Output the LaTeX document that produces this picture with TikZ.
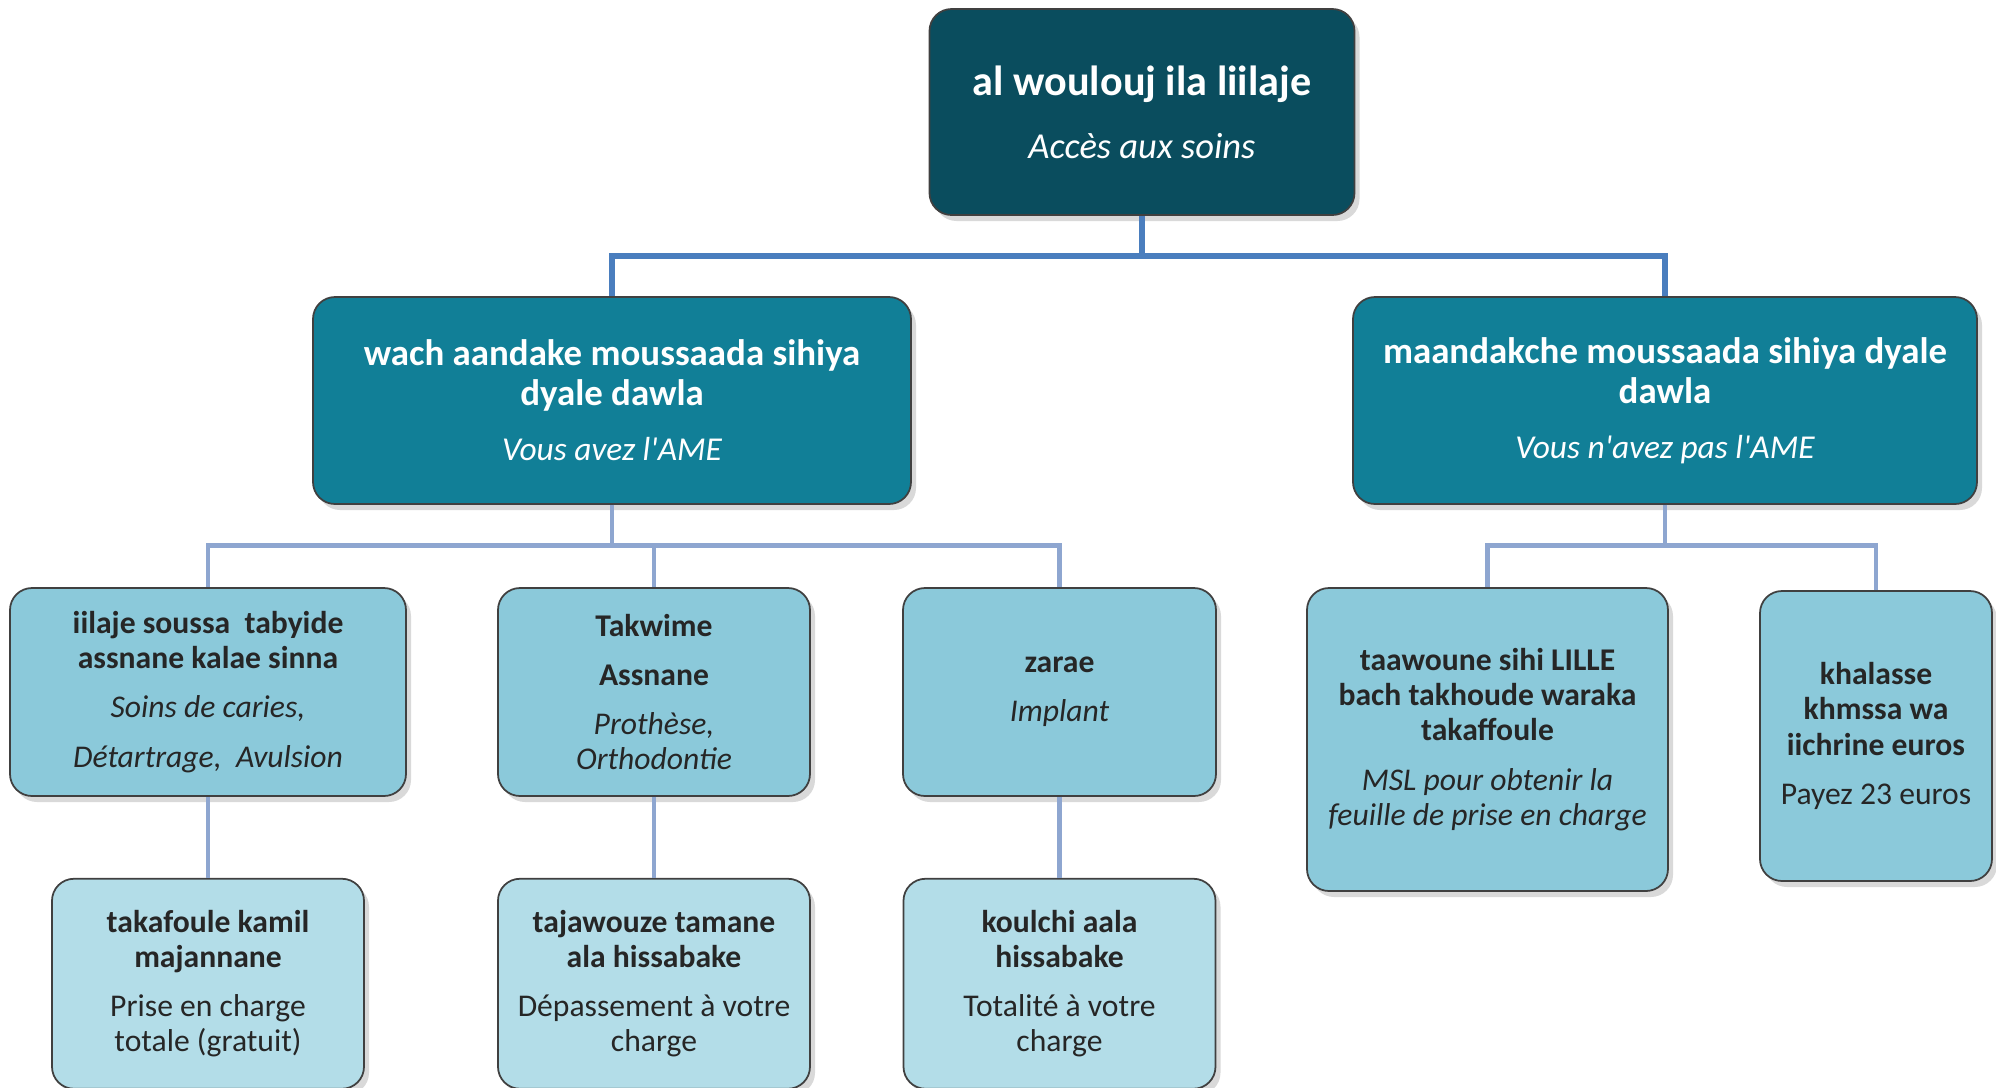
\documentclass[tikz,border=0pt]{standalone}
\usepackage{fontspec}
\setmainfont{Carlito}[Ligatures=TeXOff]
\usepackage{tikz}
\usetikzlibrary{positioning, shadows}

\definecolor{rootteal}{HTML}{0A4D5E}
\definecolor{ameteal}{HTML}{117F97}
\definecolor{soinblue}{HTML}{8BC9DA}
\definecolor{restblue}{HTML}{B3DDE8}
\definecolor{busblue}{HTML}{4A7EBE}
\definecolor{linkblue}{HTML}{8EA6D0}

\begin{document}
\begin{tikzpicture}[
  card/.style={rectangle, rounded corners=2.2mm, draw=black!75, line width=0.5pt, align=center,
    drop shadow={opacity=0.3, shadow xshift=0.5mm, shadow yshift=-0.6mm}},
  rootbox/.style={card, fill=rootteal, text=white, minimum width=4.25cm, minimum height=2.06cm,
    font=\fontsize{12}{12}\selectfont},
  amebox/.style={card, fill=ameteal, text=white, minimum height=2.07cm,
    font=\fontsize{10.5}{11.4}\selectfont},
  soinbox/.style={card, fill=soinblue, text=black!85, font=\fontsize{9}{10}\selectfont},
  restbox/.style={card, fill=restblue, text=black!85, minimum width=3.12cm, minimum height=2.1cm,
    font=\fontsize{9}{10}\selectfont},
  bus/.style={draw=busblue, line width=1.7pt},
  link/.style={draw=linkblue, line width=1.4pt}]

  \useasboundingbox (0,0) rectangle (19.96,-10.87);

  % top
  \node [rootbox] (acces) at (11.42,-1.12)
    {\textbf{al woulouj ila liilaje}\\[6pt]{\fontsize{10.4}{12}\selectfont\itshape Accès aux soins}};

  % with / without AME
  \node [amebox, minimum width=5.98cm] (ame) at (6.12,-4.005)
    {\textbf{wach aandake moussaada sihiya}\\\textbf{dyale dawla}\\[4.2pt]{\fontsize{9.5}{11.4}\selectfont\itshape Vous avez l'AME}};
  \node [amebox, minimum width=6.24cm] (noame) at (16.65,-4.005)
    {\textbf{maandakche moussaada sihiya dyale}\\\textbf{dawla}\\[4.2pt]{\fontsize{9.5}{11.4}\selectfont\itshape Vous n'avez pas l'AME}};

  % kinds of care
  \node [soinbox, minimum width=3.96cm, minimum height=2.08cm] (caries) at (2.08,-6.92)
    {\textbf{iilaje soussa~ tabyide}\\\textbf{assnane kalae sinna}\\[4pt]\textit{Soins de caries,}\\[4pt]\textit{Détartrage,~ Avulsion}};
  \node [soinbox, minimum width=3.12cm, minimum height=2.08cm] (prothese) at (6.54,-6.92)
    {\textbf{Takwime}\\[4pt]\textbf{Assnane}\\[4pt]\textit{Prothèse,}\\\textit{Orthodontie}};
  \node [soinbox, minimum width=3.13cm, minimum height=2.08cm] (implant) at (10.595,-6.92)
    {\textbf{zarae}\\[4pt]\textit{Implant}};
  \node [soinbox, minimum width=3.61cm, minimum height=3.03cm] (msl) at (14.875,-7.395)
    {\textbf{taawoune sihi LILLE}\\\textbf{bach takhoude waraka}\\\textbf{takaffoule}\\[4pt]\textit{MSL pour obtenir la}\\\textit{feuille de prise en charge}};
  \node [soinbox, minimum width=2.32cm, minimum height=2.9cm] (payez) at (18.76,-7.36)
    {\textbf{khalasse}\\\textbf{khmssa wa}\\\textbf{iichrine euros}\\[4pt]Payez 23 euros};

  % what is left to pay
  \node [restbox, below=0.81cm of caries] (gratuit)
    {\textbf{takafoule kamil}\\\textbf{majannane}\\[4pt]Prise en charge\\totale (gratuit)};
  \node [restbox, below=0.81cm of prothese] (depassement)
    {\textbf{tajawouze tamane}\\\textbf{ala hissabake}\\[4pt]Dépassement à votre\\charge};
  \node [restbox, below=0.81cm of implant] (totalite)
    {\textbf{koulchi aala}\\\textbf{hissabake}\\[4pt]Totalité à votre\\charge};

  % connectors
  \path [bus] (acces.south) -- ++(0,-0.4) -| (ame.north);
  \path [bus] (acces.south) -- ++(0,-0.4) -| (noame.north);

  \path [link] (ame.south) -- ++(0,-0.41) -| (caries.north);
  \path [link] (ame.south) -- ++(0,-0.41) -| (prothese.north);
  \path [link] (ame.south) -- ++(0,-0.41) -| (implant.north);
  \path [link] (noame.south) -- ++(0,-0.41) -| (msl.north);
  \path [link] (noame.south) -- ++(0,-0.41) -| (payez.north);

  \path [link] (caries) -- (gratuit);
  \path [link] (prothese) -- (depassement);
  \path [link] (implant) -- (totalite);
\end{tikzpicture}
\end{document}
